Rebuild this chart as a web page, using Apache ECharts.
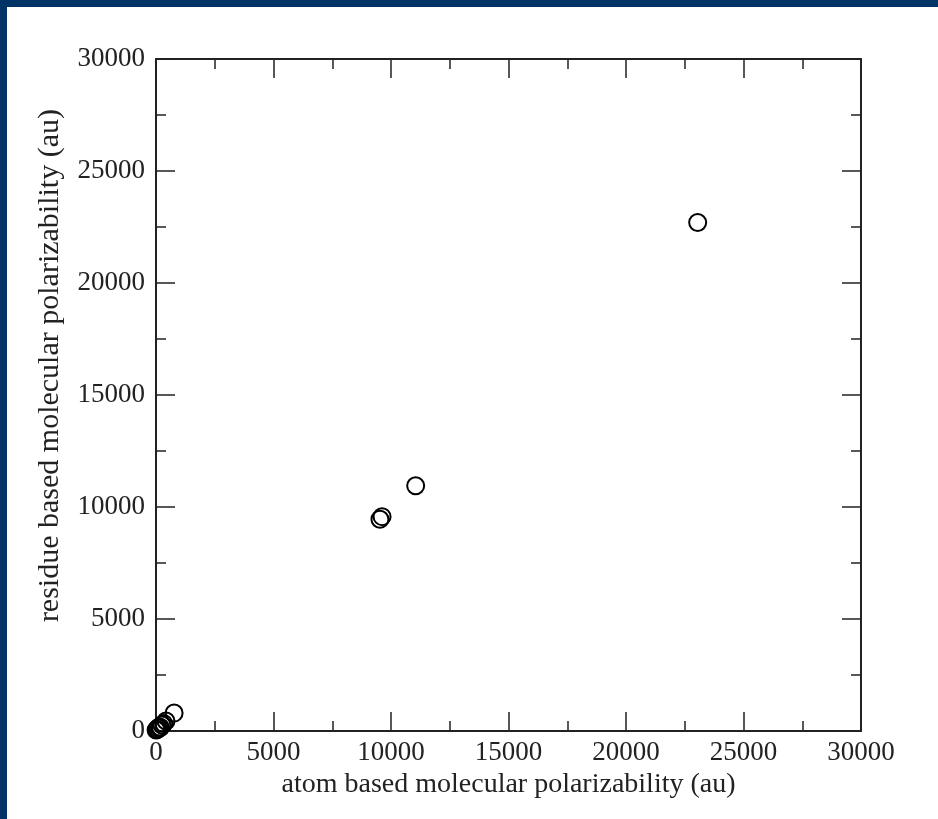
<!DOCTYPE html>
<html>
<head>
<meta charset="utf-8">
<script src="https://cdn.jsdelivr.net/npm/echarts@6/dist/echarts.min.js"></script>
<style>
html,body{margin:0;padding:0;}
#bg{position:absolute;left:0;top:0;width:938px;height:819px;background:#003366;}
#white{position:absolute;left:7px;top:7px;width:931px;height:812px;background:#ffffff;}
#chart{position:absolute;left:0;top:0;width:938px;height:819px;}
</style>
</head>
<body>
<div id="bg"></div>
<div id="white"></div>
<div id="chart"></div>
<script>
// Data
const atomPolarizability    = [23050, 11050, 9620, 9530, 770, 425, 330, 255, 190, 140, 85, 60, 30, 5];
const residuePolarizability = [22700, 10950, 9570, 9450, 800, 445, 330, 270, 160, 180, 130, 60, 70, 40];
const axisMin = 0;
const axisMax = 30000;
const tickInterval = 5000;
const xTitle = 'atom based molecular polarizability (au)';
const yTitle = 'residue based molecular polarizability (au)';

const points = atomPolarizability.map((x, i) => [x, residuePolarizability[i]]);
const FONT = '"Liberation Serif", "Times New Roman", serif';
const INK = '#222222';

function makeAxis(pos, showLabel, name, labelMargin) {
  const ax = {
    type: 'value',
    position: pos,
    min: axisMin,
    max: axisMax,
    interval: tickInterval,
    axisLine: { show: true, onZero: false, lineStyle: { color: INK, width: 2 } },
    axisTick: { show: true, inside: true, length: 19, lineStyle: { color: INK, width: 1.5 } },
    minorTick: { show: true, splitNumber: 2, length: 10, lineStyle: { color: INK, width: 1.5 } },
    splitLine: { show: false },
    minorSplitLine: { show: false },
    axisLabel: {
      show: showLabel, fontFamily: FONT, fontSize: 27, color: INK, margin: labelMargin,
      formatter: (v) => String(v)
    }
  };
  if (name) {
    ax.name = name;
    ax.nameLocation = 'middle';
    ax.nameGap = 37;
    ax.nameTextStyle = { fontFamily: FONT, fontSize: 28, color: INK, verticalAlign: 'top' };
  }
  return ax;
}

const chart = echarts.init(document.getElementById('chart'), null, { renderer: 'canvas' });
chart.setOption({
  backgroundColor: 'transparent',
  animation: false,
  grid: { left: 156, top: 59, right: 77, bottom: 88, containLabel: false },
  xAxis: [makeAxis('bottom', true, xTitle, 8), makeAxis('top', false, null, 8)],
  yAxis: [makeAxis('left', true, null, 11), makeAxis('right', false, null, 11)],
  graphic: [{
    type: 'text',
    left: 35,
    top: 109,
    rotation: Math.PI / 2,
    style: {
      text: yTitle,
      font: '30px "Liberation Serif", "Times New Roman", serif',
      fill: INK
    }
  }],
  series: [{
    type: 'scatter',
    xAxisIndex: 0,
    yAxisIndex: 0,
    data: points,
    symbol: 'circle',
    symbolSize: 17,
    itemStyle: { color: 'rgba(0,0,0,0)', borderColor: '#000000', borderWidth: 2, opacity: 1 }
  }]
});
</script>
</body>
</html>
